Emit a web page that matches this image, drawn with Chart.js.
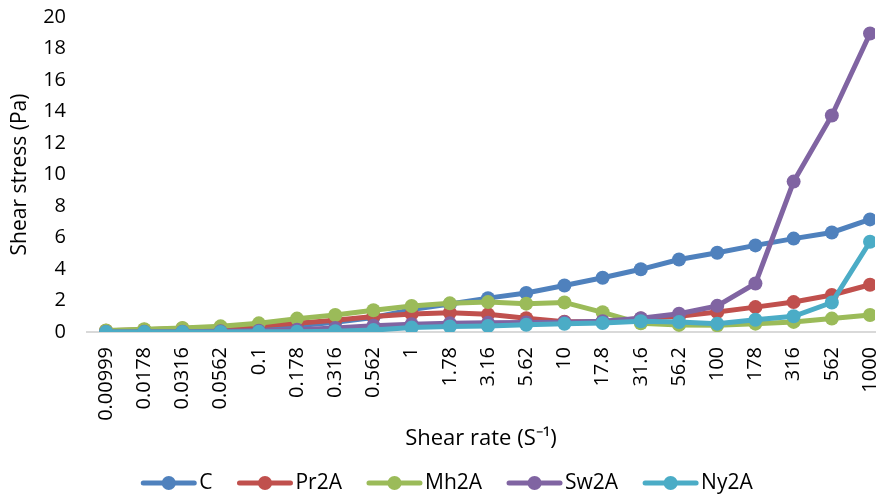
<!DOCTYPE html>
<html>
<head>
<meta charset="utf-8">
<script src="https://cdn.jsdelivr.net/npm/chart.js@4/dist/chart.umd.min.js"></script>
<style>
  html, body { margin: 0; padding: 0; background: #ffffff; overflow: hidden; }
  #wrap { width: 882px; height: 495px; }
</style>
</head>
<body>
<div id="wrap"><canvas id="chart" width="882" height="495"></canvas></div>
<script>
// Shear rate categories (s^-1), shown as tick labels
const shearRates = ['0.00999', '0.0178', '0.0316', '0.0562', '0.1', '0.178', '0.316', '0.562', '1', '1.78',
  '3.16', '5.62', '10', '17.8', '31.6', '56.2', '100', '178', '316', '562', '1000'];

// Shear stress (Pa) per sample
const stressC    = [0.0, 0.01, 0.02, 0.04, 0.12, 0.4, 0.62, 0.92, 1.42, 1.78, 2.15, 2.48, 2.95, 3.44, 3.98, 4.6, 5.03, 5.5, 5.93, 6.32, 7.15];
const stressPr2A = [0.08, 0.15, 0.22, 0.3, 0.4, 0.55, 0.75, 0.98, 1.15, 1.22, 1.12, 0.88, 0.65, 0.65, 0.85, 1.0, 1.27, 1.58, 1.9, 2.35, 3.0];
const stressMh2A = [0.1, 0.18, 0.26, 0.36, 0.55, 0.85, 1.08, 1.38, 1.65, 1.82, 1.9, 1.8, 1.88, 1.25, 0.55, 0.45, 0.43, 0.53, 0.64, 0.85, 1.08];
const stressSw2A = [0.0, 0.01, 0.02, 0.04, 0.08, 0.15, 0.25, 0.4, 0.5, 0.55, 0.58, 0.6, 0.62, 0.68, 0.87, 1.16, 1.66, 3.08, 9.55, 13.75, 18.95];
const stressNy2A = [0.0, 0.0, 0.0, 0.0, 0.01, 0.02, 0.05, 0.12, 0.28, 0.35, 0.38, 0.46, 0.52, 0.57, 0.68, 0.63, 0.53, 0.78, 1.0, 1.87, 5.73];

// y-axis tick values
const stressTicks = [0, 2, 4, 6, 8, 10, 12, 14, 16, 18, 20];

const seriesNames  = ['C', 'Pr2A', 'Mh2A', 'Sw2A', 'Ny2A'];
const seriesValues = [stressC, stressPr2A, stressMh2A, stressSw2A, stressNy2A];
const seriesColors = ['#4f81bd', '#c0504d', '#9bbb59', '#8064a2', '#4bacc6'];

const FONT = "'Open Sans', 'Liberation Sans', sans-serif";

const datasets = seriesNames.map((name, s) => ({
  label: name,
  data: seriesValues[s].map((v, i) => ({ x: i, y: v })),
  borderColor: seriesColors[s],
  backgroundColor: seriesColors[s],
  borderWidth: 5,
  pointRadius: 7,
  pointHoverRadius: 7,
  pointBorderWidth: 0,
  pointBackgroundColor: seriesColors[s],
  tension: 0,
  fill: false,
  // later series are painted on top
  order: seriesNames.length - s
}));

// legend row drawn under the axis title: line + dot marker, then name
const legendRow = {
  id: 'legendRow',
  afterDraw(chart) {
    const ctx = chart.ctx;
    const y = 483;
    const markW = 55, gapText = 3, gapItem = 25;
    ctx.save();
    ctx.font = '21px ' + FONT;
    const widths = chart.data.datasets.map(d => markW + gapText + ctx.measureText(d.label).width);
    const total = widths.reduce((a, b) => a + b, 0) + gapItem * (widths.length - 1);
    let x = chart.width / 2 - total / 2 + 6;
    chart.data.datasets.forEach((d, i) => {
      ctx.strokeStyle = d.borderColor;
      ctx.lineWidth = 5;
      ctx.lineCap = 'round';
      ctx.beginPath();
      ctx.moveTo(x + 2, y);
      ctx.lineTo(x + markW - 2, y);
      ctx.stroke();
      ctx.fillStyle = d.borderColor;
      ctx.beginPath();
      ctx.arc(x + markW / 2, y, 7, 0, Math.PI * 2);
      ctx.fill();
      ctx.fillStyle = '#000000';
      ctx.textBaseline = 'middle';
      ctx.textAlign = 'left';
      ctx.fillText(d.label, x + markW + gapText, y);
      x += widths[i] + gapItem;
    });
    ctx.restore();
  }
};

new Chart(document.getElementById('chart'), {
  type: 'line',
  data: { datasets },
  plugins: [legendRow],
  options: {
    responsive: false,
    animation: false,
    layout: { padding: { top: 17, right: 0, bottom: 43, left: 0 } },
    plugins: {
      legend: { display: false },
      tooltip: { enabled: false }
    },
    scales: {
      x: {
        type: 'linear',
        min: -0.498,
        max: 20.13,
        afterFit(scale) {
          scale.height = 120;
          scale.paddingLeft = 0;
          scale.paddingRight = 0;
        },
        afterBuildTicks(scale) {
          scale.ticks = shearRates.map((_, i) => ({ value: i }));
        },
        grid: { display: false, drawTicks: false },
        border: { display: true, color: '#d9d9d9', width: 2 },
        ticks: {
          autoSkip: false,
          includeBounds: false,
          minRotation: 90,
          maxRotation: 90,
          padding: 15,
          color: '#000000',
          font: { family: FONT, size: 20 },
          callback: (v) => shearRates[v]
        },
        title: {
          display: true,
          text: 'Shear rate (S\u207B\u00B9)',
          color: '#000000',
          padding: 0,
          font: { family: FONT, size: 22 }
        }
      },
      y: {
        min: 0,
        max: 20,
        afterFit(scale) {
          scale.width = 87;
          scale.paddingTop = 0;
          scale.paddingBottom = 0;
        },
        afterBuildTicks(scale) {
          scale.ticks = stressTicks.map(v => ({ value: v }));
        },
        grid: { display: false, drawTicks: false },
        border: { display: false },
        ticks: {
          padding: 21,
          color: '#000000',
          font: { family: FONT, size: 20 }
        },
        title: {
          display: true,
          text: 'Shear stress (Pa)',
          color: '#000000',
          padding: { top: 7, bottom: 0 },
          font: { family: FONT, size: 21 }
        }
      }
    }
  }
});
</script>
</body>
</html>
